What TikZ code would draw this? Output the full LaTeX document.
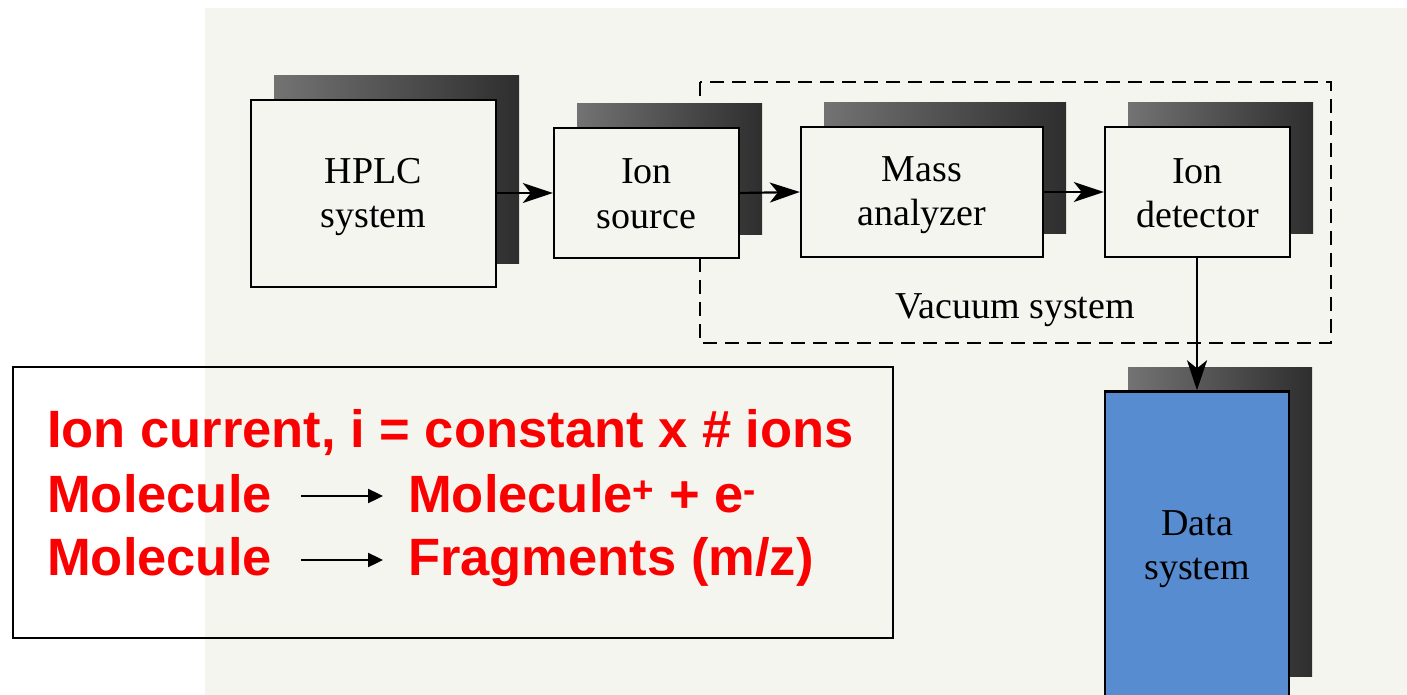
\documentclass[tikz,border=0pt]{standalone}
\usepackage{fontspec}
\setmainfont{Liberation Serif}
\newfontfamily\redfont{Liberation Sans}
\usetikzlibrary{arrows.meta,shadows}
\definecolor{paper}{RGB}{245,245,240}
\definecolor{datablue}{RGB}{88,140,208}
\definecolor{redink}{RGB}{250,0,0}
\newcommand\blkstrut{\rule[-6pt]{0pt}{38pt}}
\tikzset{
  blk/.style={draw=black, line width=2.4pt, fill=paper, align=center,
    font=\fontsize{38}{44}\selectfont, inner sep=0pt,
    drop shadow={shadow xshift=23pt, shadow yshift=24pt, opacity=1,
      left color=black!55, right color=black!82}},
  flow/.style={line width=2.2pt, -{Stealth[length=30pt,width=20pt,inset=8pt]}},
  vacbox/.style={line width=2.4pt, dash pattern=on 14pt off 8pt},
  redtxt/.style={text=redink, font=\redfont\bfseries\fontsize{52.5}{60}\selectfont,
    inner sep=0pt, anchor=base west},
  txtarrow/.style={line width=2.4pt, -{Triangle[length=15pt,width=14pt]}},
  lbl/.style={font=\fontsize{38}{44}\selectfont, inner sep=0pt}
}
\begin{document}
\begin{tikzpicture}[x=1pt,y=-1pt]
\useasboundingbox (0,0) rectangle (1407,695);
\clip (0,0) rectangle (1407,695);
% scanned page background
\fill[paper] (205,8) rectangle (1407,700);
% vacuum system enclosure
\draw[vacbox] (700,82) rectangle (1331,343);
\node[lbl, anchor=base] (vac) at (1015,318) {Vacuum system};
% blocks
\node[blk, minimum width=245pt, minimum height=187pt] (hplc) at (373.5,193.5) {\blkstrut HPLC\\\blkstrut system};
\node[blk, minimum width=185pt, minimum height=130pt] (src) at (646.5,193) {\blkstrut Ion\\\blkstrut source};
\node[blk, minimum width=242pt, minimum height=130pt] (mass) at (922,192) {\blkstrut Mass\\\blkstrut analyzer};
\node[blk, minimum width=185pt, minimum height=130pt] (det) at (1197.5,192) {\blkstrut Ion\\\blkstrut detector};
\node[blk, fill=datablue, minimum width=184pt, minimum height=309pt] (data) at (1197,546) {\blkstrut Data\\\blkstrut system};
% connectors
\draw[flow] (hplc.east |- src.west) -- (src.west);
\draw[flow] (src.east) -- (mass.west);
\draw[flow] (mass.east) -- (det.west);
\draw[flow] (det.south -| data.north) -- (data.north);
% annotation box
\draw[line width=2pt] (13,367) rectangle (893,638);
\node[redtxt] (l1) at (47,447) {Ion current, i = constant x \# ions};
\node[redtxt] (m1) at (47,512) {Molecule};
\node[redtxt] (p1) at (408,512) {Molecule\textsuperscript{+} + e\textsuperscript{-}};
\node[redtxt] (m2) at (47,575) {Molecule};
\node[redtxt] (p2) at (408,575) {Fragments (m/z)};
\coordinate (a1s) at (301,496);
\coordinate (a1e) at (383,496);
\coordinate (a2s) at (301,560);
\coordinate (a2e) at (383,560);
\draw[txtarrow] (a1s) -- (a1e);
\draw[txtarrow] (a2s) -- (a2e);
\end{tikzpicture}
\end{document}
